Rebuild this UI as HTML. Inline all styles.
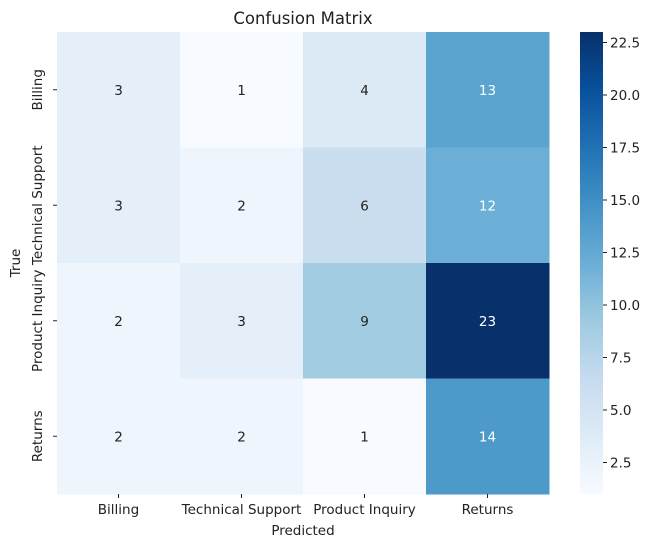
<!DOCTYPE html>
<html><head><meta charset="utf-8"><style>
body{margin:0;background:#fff;}
svg text{font-family:"DejaVu Sans","Liberation Sans",sans-serif;fill:#222;}
</style></head><body>
<svg id="chart" width="653" height="547" xmlns="http://www.w3.org/2000/svg">
<defs><linearGradient id="cbg" x1="0" y1="1" x2="0" y2="0">
<stop offset="0" stop-color="#f7fbff"/><stop offset="0.125" stop-color="#deebf7"/><stop offset="0.25" stop-color="#c6dbef"/><stop offset="0.375" stop-color="#9ecae1"/><stop offset="0.5" stop-color="#6baed6"/><stop offset="0.625" stop-color="#4292c6"/><stop offset="0.75" stop-color="#2171b5"/><stop offset="0.875" stop-color="#08519c"/><stop offset="1" stop-color="#08306b"/></linearGradient></defs>
<text x="303" y="24" font-size="16.5" text-anchor="middle">Confusion Matrix</text>
<text x="303" y="535" font-size="13.5" text-anchor="middle">Predicted</text>
<text x="20" y="263" font-size="13.5" text-anchor="middle" transform="rotate(-90 20 263)">True</text>
<g id="cells"></g><g id="cb"></g>
</svg>
<script>
const categories=["Billing","Technical Support","Product Inquiry","Returns"];
const row0=[3,1,4,13];
const row1=[3,2,6,12];
const row2=[2,3,9,23];
const row3=[2,2,1,14];
const cbTicks=[2.5,5.0,7.5,10.0,12.5,15.0,17.5,20.0,22.5];
const matrix=[row0,row1,row2,row3];
const NS="http://www.w3.org/2000/svg";
const L=57,R=549,T=32,B=494;
const stops=[[247,251,255],[222,235,247],[198,219,239],[158,202,225],[107,174,214],[66,146,198],[33,113,181],[8,81,156],[8,48,107]];
const all=matrix.flat();const vmin=Math.min(...all),vmax=Math.max(...all);
function cmap(t){t=Math.max(0,Math.min(1,t))*8;const i=Math.min(7,Math.floor(t)),f=t-i;return stops[i].map((c,k)=>Math.round(c+(stops[i+1][k]-c)*f));}
function el(n,a,p){const e=document.createElementNS(NS,n);for(const k in a)e.setAttribute(k,a[k]);p.appendChild(e);return e;}
const n=categories.length,cw=(R-L)/n,ch=(B-T)/n;
const xS=i=>L+i*cw,yS=i=>T+i*ch;
const g=document.getElementById('cells');
matrix.forEach((row,r)=>row.forEach((v,c)=>{
 const tn=(v-vmin)/(vmax-vmin);
 const col=cmap(tn);
 const rc=el('rect',{x:xS(c),y:yS(r),width:cw+0.5,height:ch+0.5,fill:`rgb(${col})`},g);
 
 
 const t=el('text',{x:xS(c)+cw/2,y:yS(r)+ch/2+5,'font-size':13.5,'text-anchor':'middle',style:'fill:'+(tn>0.45?'#fff':'#222')},g);
 t.textContent=v;
 
 
}));
categories.forEach((c,i)=>{
 const x=xS(i)+cw/2;el('line',{x1:x,x2:x,y1:B,y2:B+4,stroke:'#222'},g);
 const t=el('text',{x:x,y:B+20,'font-size':13.5,'text-anchor':'middle'},g);t.textContent=c;
 
 
 const y=yS(i)+ch/2;el('line',{x1:L-4,x2:L,y1:y,y2:y,stroke:'#222'},g);
 const u=el('text',{x:L-15,y:y,'font-size':13.5,'text-anchor':'middle',transform:`rotate(-90 ${L-15} ${y})`},g);u.textContent=c;
 
 
});
const cb=document.getElementById('cb');const CX=580,CW=23;
const cyS=v=>B-(v-vmin)/(vmax-vmin)*(B-T);
const bar=el('rect',{x:CX,y:T,width:CW,height:B-T,fill:'url(#cbg)'},cb);


cbTicks.forEach(v=>{const y=cyS(v);el('line',{x1:CX+CW,x2:CX+CW+4,y1:y,y2:y,stroke:'#222'},cb);
 const t=el('text',{x:CX+CW+7,y:y+5,'font-size':13.5},cb);t.textContent=v.toFixed(1);
 
 });
</script>
</body></html>
